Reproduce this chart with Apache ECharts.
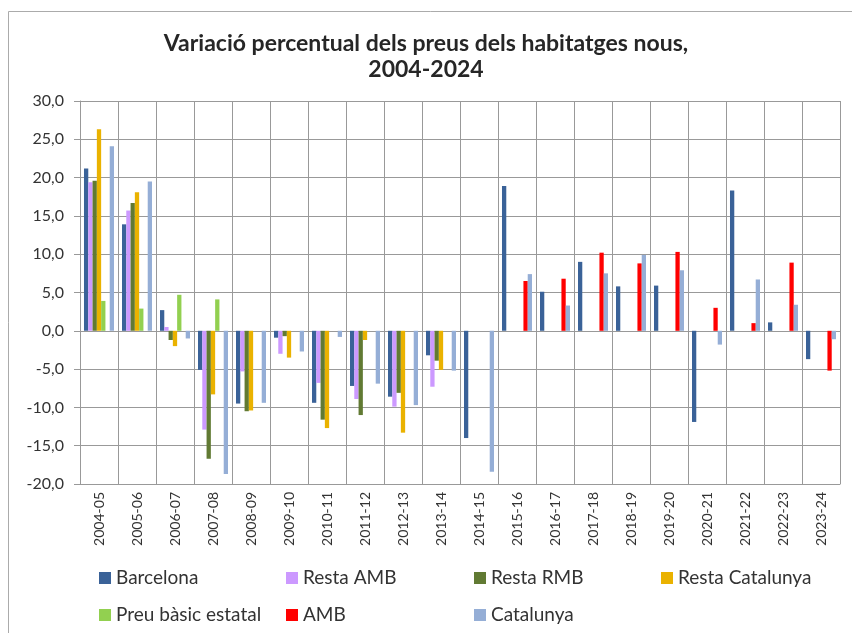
<!DOCTYPE html>
<html>
<head>
<meta charset="utf-8">
<script src="https://cdn.jsdelivr.net/npm/echarts@6/dist/echarts.min.js"></script>
<style>html,body{margin:0;padding:0;background:#fff}#c{width:852px;height:633px}</style>
</head>
<body>
<div id="c"></div>
<script>
var categories = ['2004-05','2005-06','2006-07','2007-08','2008-09','2009-10','2010-11','2011-12','2012-13','2013-14','2014-15','2015-16','2016-17','2017-18','2018-19','2019-20','2020-21','2021-22','2022-23','2023-24'];
var barcelona      = [21.2, 13.9, 2.7, -5.1, -9.5, -0.9, -9.4, -7.2, -8.6, -3.2, -14.0, 18.9, 5.1, 9.0, 5.8, 5.9, -11.9, 18.3, 1.1, -3.7];
var restaAMB       = [19.4, 15.7, 0.5, -12.9, -5.3, -3.0, -6.8, -8.9, -9.9, -7.3, null, null, null, null, null, null, null, null, null, null];
var restaRMB       = [19.6, 16.7, -1.2, -16.7, -10.5, -0.7, -11.6, -11.0, -8.1, -3.9, null, null, null, null, null, null, null, null, null, null];
var restaCatalunya = [26.3, 18.1, -2.0, -8.3, -10.4, -3.5, -12.7, -1.2, -13.3, -5.1, null, null, null, null, null, null, null, null, null, null];
var preuBasic      = [3.9, 2.9, 4.7, 4.1, null, null, null, null, null, null, null, null, null, null, null, null, null, null, null, null];
var amb            = [null, null, null, null, null, null, null, null, null, null, null, 6.5, 6.8, 10.2, 8.8, 10.3, 3.0, 1.0, 8.9, -5.2];
var catalunya      = [24.1, 19.5, -1.0, -18.7, -9.4, -2.7, -0.8, -6.9, -9.7, -5.2, -18.4, 7.4, 3.3, 7.5, 9.9, 7.9, -1.8, 6.7, 3.4, -1.1];
var yTicks = [-20, -15, -10, -5, 0, 5, 10, 15, 20, 25, 30];

var seriesNames = ['Barcelona','Resta AMB','Resta RMB','Resta Catalunya','Preu bàsic estatal','AMB','Catalunya'];
var seriesData = [barcelona, restaAMB, restaRMB, restaCatalunya, preuBasic, amb, catalunya];
var colors = ['#3A6298','#CC99FF','#617A33','#EAB200','#92D050','#FF0000','#95AED6'];
var FONT = 'Lato, "Open Sans", sans-serif';

var chart = echarts.init(document.getElementById('c'), null, {renderer:'canvas'});
var legendPos = [[99,568],[286,568],[474,568],[661,568],[99,605],[286,605],[474,605]];
var option = {
  animation:false,
  color: colors,
  textStyle:{fontFamily:FONT},
  title:{
    text:'Variació percentual dels preus dels habitatges nous,\n2004-2024',
    left:'center', top:31, padding:0,
    textStyle:{fontFamily:FONT, fontSize:23, fontWeight:'bold', color:'#262626', lineHeight:26}
  },
  graphic:[{type:'rect', shape:{x:8.5,y:11.5,width:900,height:700}, style:{fill:null, stroke:'#ababab', lineWidth:1}, silent:true}],
  legend: seriesNames.map(function(n,i){
    return {left:legendPos[i][0], top:legendPos[i][1], padding:0, itemWidth:12, itemHeight:12,
      icon:'rect', data:[n], selectedMode:false,
      textStyle:{fontFamily:FONT, fontSize:19, color:'#333', lineHeight:20}};
  }),
  grid:{left:80, right:12, top:101, bottom:149, containLabel:false},
  xAxis:[{
    type:'category', data:categories, position:'bottom',
    axisLine:{onZero:false, lineStyle:{color:'#999'}},
    axisTick:{show:false},
    axisLabel:{rotate:90, fontSize:14, color:'#333', margin:8, interval:0, fontFamily:FONT},
    splitLine:{show:true, interval:0, lineStyle:{color:'#999'}}
  },{
    type:'category', data:categories, position:'top',
    axisLine:{onZero:true, lineStyle:{color:'#999'}},
    axisTick:{show:true, inside:true, length:5, interval:0, lineStyle:{color:'#999'}},
    axisLabel:{show:false},
    splitLine:{show:false}
  }],
  yAxis:{
    type:'value', min:yTicks[0], max:yTicks[yTicks.length-1], interval:5,
    axisLine:{show:true, lineStyle:{color:'#999'}},
    axisTick:{show:true, length:6, lineStyle:{color:'#999'}},
    axisLabel:{fontSize:16, color:'#333', margin:16, fontFamily:FONT,
      formatter:function(v){return v.toFixed(1).replace('.',',');}},
    splitLine:{lineStyle:{color:'#999'}}
  },
  series: seriesNames.map(function(n,i){
    return {name:n, type:'bar', data:seriesData[i], xAxisIndex:0,
      barGap:'0%', barCategoryGap:'21%', itemStyle:{color:colors[i]}};
  })
};
chart.setOption(option);
</script>
</body>
</html>
